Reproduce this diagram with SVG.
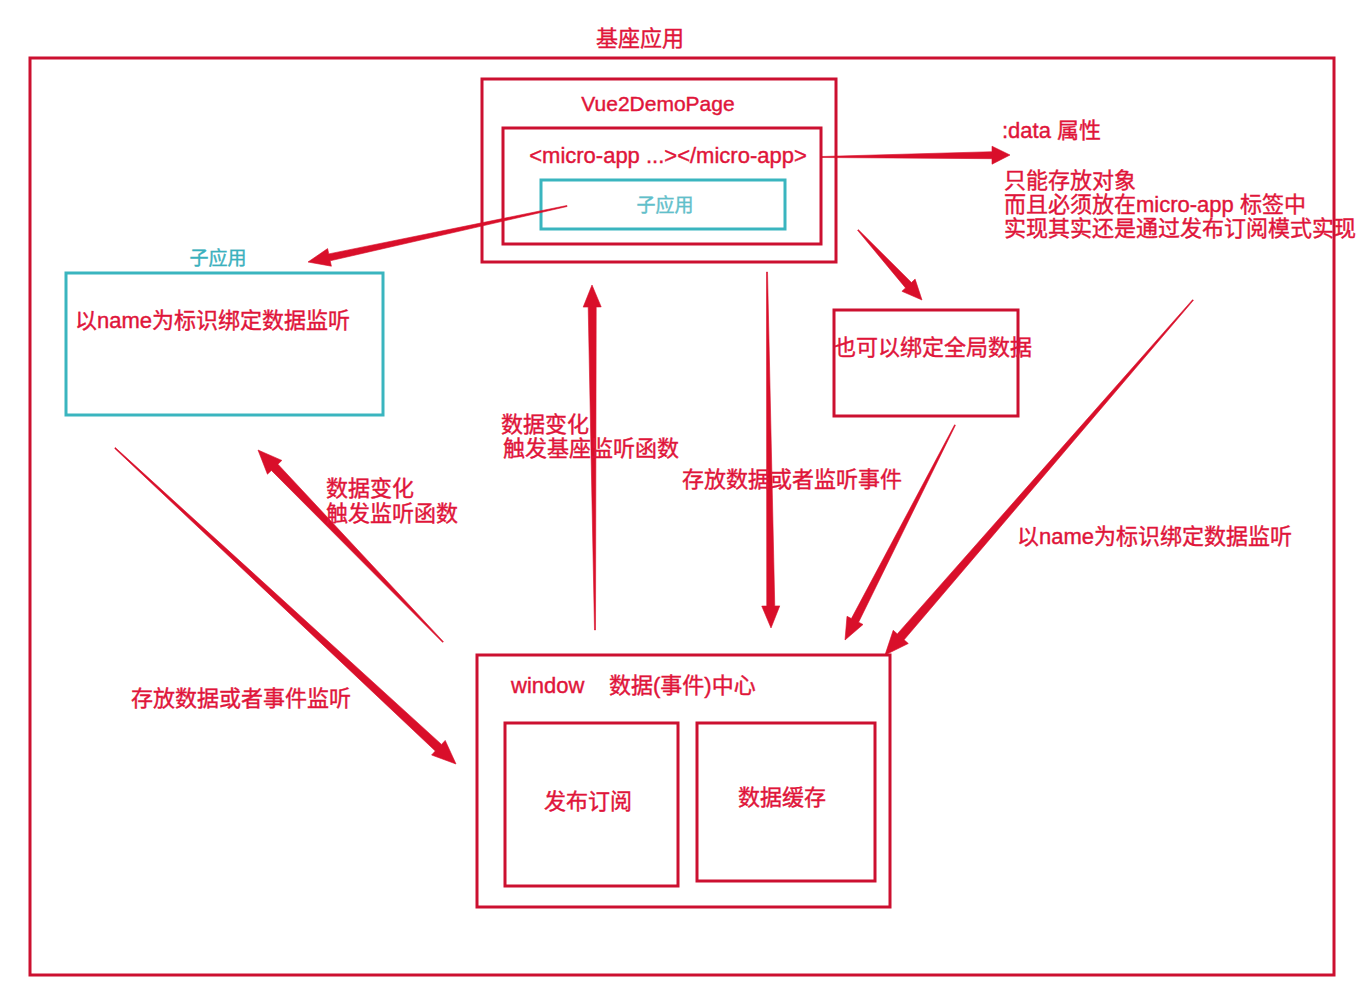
<svg xmlns="http://www.w3.org/2000/svg" width="1359" height="985" viewBox="0 0 1359 985">
<style>
.box{fill:none;stroke:#cc1030;stroke-width:3}
.cbox{fill:none;stroke:#3ab5bf;stroke-width:3}
.t{font-family:"Liberation Sans","Noto Sans CJK SC",sans-serif;font-size:22px;fill:#e0153a;stroke:#e0153a;stroke-width:0.4}
.c{fill:#3ab0bd;stroke:#3ab0bd}
.m{text-anchor:middle}
.arr{fill:#d90f2a;stroke:#d90f2a;stroke-width:0.6;stroke-linejoin:round}
</style>
<rect width="1359" height="985" fill="#ffffff"/>

<g id="host">
<rect class="box" x="30" y="58" width="1304" height="917"/>
<text class="t m" x="640" y="46">基座应用</text>
</g>

<g id="vue2demopage">
<rect class="box" x="482" y="79" width="354" height="183"/>
<text class="t m" x="658" y="111" style="font-size:21px">Vue2DemoPage</text>
</g>

<g id="micro-app">
<rect class="box" x="503" y="128" width="318" height="116"/>
<text class="t m" x="668" y="163" style="font-size:22px">&lt;micro-app ...&gt;&lt;/micro-app&gt;</text>
</g>

<g id="inner-sub-app">
<rect class="cbox" x="541" y="180" width="244" height="49"/>
<text class="t c m" x="665" y="212" style="font-size:19px;opacity:0.8">子应用</text>
</g>

<g id="sub-app">
<text class="t c m" x="218" y="265" style="font-size:19px">子应用</text>
<rect class="cbox" x="66" y="273" width="317" height="142"/>
<text class="t" x="75" y="328">以name为标识绑定数据监听</text>
</g>

<g id="data-attr">
<text class="t" x="1002" y="138">:data 属性</text>
<text class="t" x="1004" y="188">只能存放对象</text>
<text class="t" x="1004" y="212">而且必须放在micro-app 标签中</text>
<text class="t" x="1004" y="236">实现其实还是通过发布订阅模式实现</text>
</g>

<g id="global-data">
<rect class="box" x="834" y="310" width="184" height="106"/>
<text class="t" x="834" y="355">也可以绑定全局数据</text>
</g>

<g id="window-center">
<rect class="box" x="477" y="655" width="413" height="252"/>
<text class="t" x="511" y="693">window</text>
<text class="t" x="609" y="693">数据(事件)中心</text>
</g>

<g id="pubsub">
<rect class="box" x="505" y="723" width="173" height="163"/>
<text class="t m" x="588" y="809">发布订阅</text>
</g>

<g id="cache">
<rect class="box" x="697" y="723" width="178" height="158"/>
<text class="t m" x="782" y="805">数据缓存</text>
</g>

<g id="connectors">
<polygon class="arr" points="566.9,205.5 328.8,253.9 327.6,248.6 308,262 331.4,266.2 330.2,260.8 567.1,206.5"/>
<polygon class="arr" points="822,156.5 992,151.7 992,146.2 1010,155 992,164.2 992,158.7 822,157.5"/>
<polygon class="arr" points="857.6,230.3 905.55,287.9 901.9,291.3 922,300 915.1,279.1 911.45,282.5 858.4,229.7"/>
<polygon class="arr" points="954.6,424.8 851.4,618.6 847.0,616.3 845,640 863.0,624.5 858.6,622.2 955.4,425.2"/>
<polygon class="arr" points="1192.6,299.7 897.3,633.9 893.2,630.3 885,655 908.3,643.5 904.1,639.8 1193.4,300.3"/>
<polygon class="arr" points="595.5,630 596.2,307 601.2,306.9 592,285 583.2,307.1 588.2,307 594.5,630"/>
<polygon class="arr" points="766.5,272 766.75,606 761.75,606.1 771,628 779.75,605.9 774.75,606 767.5,272"/>
<polygon class="arr" points="443.4,641.65 277.9,464.2 281.85,460.4 258,450 267.45,474.2 271.4,470.4 442.6,642.35"/>
<polygon class="arr" points="114.7,448.4 435.3,751.0 431.6,755.0 456,764 445.2,740.4 441.5,744.4 115.3,447.6"/>
</g>

<g id="labels">
<text class="t" x="501" y="432">数据变化</text>
<text class="t" x="503" y="456">触发基座监听函数</text>
<text class="t" x="682" y="487">存放数据或者监听事件</text>
<text class="t" x="326" y="496">数据变化</text>
<text class="t" x="326" y="521">触发监听函数</text>
<text class="t" x="1017" y="544">以name为标识绑定数据监听</text>
<text class="t" x="131" y="706">存放数据或者事件监听</text>
</g>
</svg>
